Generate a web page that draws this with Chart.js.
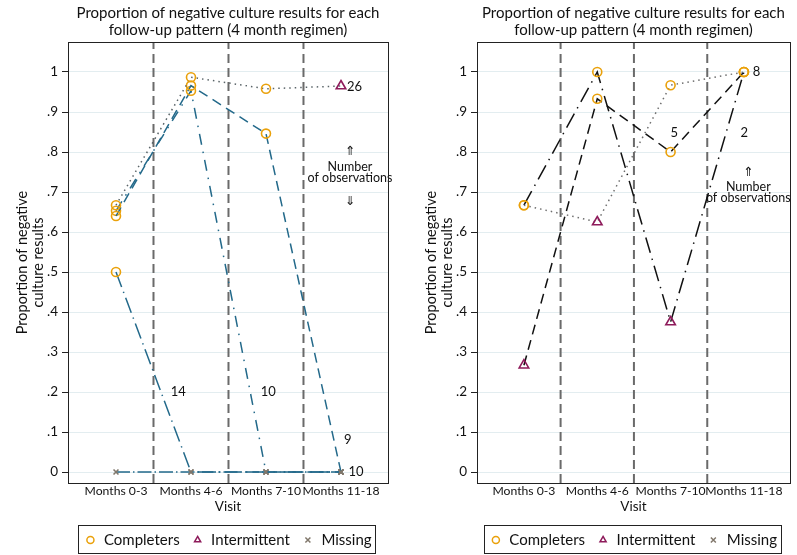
<!DOCTYPE html>
<html><head><meta charset="utf-8">
<script src="https://cdn.jsdelivr.net/npm/chart.js@4.4.1/dist/chart.umd.min.js"></script>
<style>
html,body{margin:0;padding:0;background:#fff;overflow:hidden;width:797px;height:555px}
#c1{position:absolute;left:0;top:0}
#c2{position:absolute;left:409px;top:0}
</style></head><body>
<canvas id="c1" width="398" height="555"></canvas>
<canvas id="c2" width="388" height="555"></canvas>
<script>
// ---------- data ----------
const visits = ['Months 0-3', 'Months 4-6', 'Months 7-10', 'Months 11-18'];
const yTickValues = [0, 0.1, 0.2, 0.3, 0.4, 0.5, 0.6, 0.7, 0.8, 0.9, 1];
const yTickLabels = ['0', '.1', '.2', '.3', '.4', '.5', '.6', '.7', '.8', '.9', '1'];
const legendNames = ['Completers', 'Intermittent', 'Missing'];
const chartTitle = ['Proportion of negative culture results for each', 'follow-up pattern (4 month regimen)'];
const yTitle = ['Proportion of negative', 'culture results'];
const xTitle = 'Visit';

// left panel: follow-up patterns (C = completer, I = intermittent, M = missing)
const leftValues1 = [0.667, 0.987, 0.958, 0.965];
const leftStatus1 = ['C', 'C', 'C', 'I'];
const leftValues2 = [0.640, 0.966, 0.846, 0];
const leftStatus2 = ['C', 'C', 'C', 'M'];
const leftValues3 = [0.653, 0.953, 0, 0];
const leftStatus3 = ['C', 'C', 'M', 'M'];
const leftValues4 = [0.5, 0, 0, 0];
const leftStatus4 = ['C', 'M', 'M', 'M'];
const leftValues5 = [0, 0, 0, 0];
const leftStatus5 = ['M', 'M', 'M', 'M'];
const leftCounts = ['26', '9', '10', '14', '10'];
const leftCountX = [4.08, 4.04, 2.93, 1.73, 4.10];
const leftCountY = [0.963, 0.08, 0.2, 0.2, 0];

// right panel
const rightValues1 = [0.667, 0.625, 0.967, 1.0];
const rightStatus1 = ['C', 'I', 'C', 'C'];
const rightValues2 = [0.667, 1.0, 0.375, 1.0];
const rightStatus2 = ['C', 'C', 'I', 'C'];
const rightValues3 = [0.267, 0.933, 0.8, 1.0];
const rightStatus3 = ['I', 'C', 'C', 'C'];
const rightCounts = ['8', '2', '5'];
const rightCountX = [4.12, 3.955, 3.0];
const rightCountY = [1.0, 0.848, 0.848];

// ---------- styles ----------
const FONT = "Lato, 'DejaVu Sans', sans-serif";
const C_COL = '#eaa10b', I_COL = '#8e1b5b', M_COL = '#80776b';
const styleFor = {
  C: {ps: 'circle', col: C_COL, r: 4.5},
  I: {ps: 'triangle', col: I_COL, r: 5.5},
  M: {ps: 'crossRot', col: M_COL, r: 3.5}
};
const X_MIN = 0.36, X_MAX = 4.627, Y_MIN = -0.0275, Y_MAX = 1.075;
const dividerAt = [1.5, 2.5, 3.5];

function lineDs(values, status, color, dash) {
  return {
    data: values.map((v, i) => ({x: i + 1, y: v})),
    showLine: true, borderColor: color, borderWidth: 1.5, borderDash: dash,
    fill: false, tension: 0,
    pointStyle: status.map(s => styleFor[s].ps),
    pointBorderColor: status.map(s => styleFor[s].col),
    pointBackgroundColor: 'rgba(0,0,0,0)',
    pointRadius: status.map(s => styleFor[s].r),
    pointHoverRadius: status.map(s => styleFor[s].r),
    pointBorderWidth: 1.6,
    order: 1
  };
}
function dividerDs(xv) {
  return {
    data: [{x: xv, y: Y_MIN}, {x: xv, y: Y_MAX}],
    showLine: true, borderColor: '#6a6a6a', borderWidth: 2, borderDash: [9, 5],
    pointRadius: 0, pointHoverRadius: 0, fill: false, order: 10
  };
}

const frameAndLegendBox = {
  id: 'frameBox',
  afterDraw(chart) {
    const ctx = chart.ctx, a = chart.chartArea;
    ctx.save();
    ctx.strokeStyle = '#222'; ctx.lineWidth = 1;
    ctx.strokeRect(Math.round(a.left) + 0.5, Math.round(a.top) + 0.5, Math.round(a.right - a.left), Math.round(a.bottom - a.top));
    const lg = chart.legend;
    if (lg && lg.legendHitBoxes && lg.legendHitBoxes.length) {
      const hb = lg.legendHitBoxes;
      const l = Math.min(...hb.map(h => h.left)) - 6;
      const r = Math.max(...hb.map(h => h.left + h.width)) + 4;
      const cy = hb[0].top + hb[0].height / 2;
      ctx.strokeRect(Math.round(l) + 0.5, Math.round(cy - 15) + 0.5, Math.round(r - l), 28);
    }
    ctx.restore();
  }
};

const annotPlugin = {
  id: 'annot',
  afterDatasetsDraw(chart, args, opts) {
    const ctx = chart.ctx, xs = chart.scales.x, ys = chart.scales.y;
    ctx.save();
    ctx.fillStyle = '#111';
    ctx.textBaseline = 'middle';
    ctx.textAlign = 'left';
    ctx.font = '13px ' + FONT;
    opts.counts.forEach((t, i) => {
      ctx.fillText(t, xs.getPixelForValue(opts.cx[i]), ys.getPixelForValue(opts.cy[i]));
    });
    ctx.textAlign = 'center';
    ctx.font = '12.5px ' + FONT;
    opts.note.forEach(n => {
      ctx.fillText(n.t, xs.getPixelForValue(n.x), ys.getPixelForValue(n.y));
    });
    ctx.restore();
  }
};

function makeChart(id, datasets, annot, padRight) {
  return new Chart(document.getElementById(id), {
    type: 'scatter',
    data: {datasets: dividerAt.map(dividerDs).concat(datasets)},
    plugins: [frameAndLegendBox, annotPlugin],
    options: {
      responsive: false, animation: false, devicePixelRatio: 1,
      layout: {padding: {left: 0, right: padRight, top: 0, bottom: -2.5}},
      plugins: {
        tooltip: {enabled: false},
        title: {
          display: true, text: chartTitle, fullSize: false, color: '#111',
          font: {family: FONT, size: 15, weight: 'normal', lineHeight: 1.12},
          padding: {top: 4.5, bottom: 3.9}
        },
        legend: {
          display: true, position: 'bottom', fullSize: false,
          labels: {
            usePointStyle: true, boxWidth: 12, boxHeight: 5, padding: 12,
            color: '#111', font: {family: FONT, size: 15},
            generateLabels: () => legendNames.map((n, i) => {
              const st = styleFor[['C', 'I', 'M'][i]];
              return {text: n, pointStyle: st.ps, strokeStyle: st.col, fillStyle: 'rgba(0,0,0,0)',
                      lineWidth: 1.5, hidden: false, fontColor: '#111'};
            })
          }
        },
        annot: annot
      },
      scales: {
        x: {
          type: 'linear', min: X_MIN, max: X_MAX,
          afterBuildTicks: s => { s.ticks = visits.map((v, i) => ({value: i + 1})); },
          afterFit: s => { s.height = 37.5; },
          grid: {display: false, drawTicks: false},
          border: {display: true, color: '#222', width: 1},
          ticks: {callback: v => visits[v - 1], color: '#111', font: {family: FONT, size: 12.2}, padding: 1, maxRotation: 0, autoSkip: false},
          title: {display: true, text: xTitle, color: '#111', font: {family: FONT, size: 13.5, lineHeight: 1.2}, padding: {top: 0, bottom: 5.7}}
        },
        y: {
          type: 'linear', min: Y_MIN, max: Y_MAX,
          afterBuildTicks: s => { s.ticks = yTickValues.map(v => ({value: v})); },
          afterFit: s => { s.width = 68; },
          grid: {display: true, color: '#e3edf0', lineWidth: 1, drawTicks: true, tickLength: 6, tickColor: '#222'},
          border: {display: true, color: '#222', width: 1},
          ticks: {callback: (v) => yTickLabels[yTickValues.findIndex(t => Math.abs(t - v) < 1e-6)], color: '#111',
                  font: {family: FONT, size: 13.5}, padding: 4},
          title: {display: true, text: yTitle, color: '#111', font: {family: FONT, size: 14.5, lineHeight: 1.15}, padding: {top: 13.6, bottom: 0}}
        }
      }
    }
  });
}

const TEAL = '#23698a';
makeChart('c1', [
  lineDs(leftValues1, leftStatus1, '#5a6468', [1.5, 4]),
  lineDs(leftValues2, leftStatus2, TEAL, [10, 6]),
  lineDs(leftValues3, leftStatus3, TEAL, [11, 7, 1.5, 7]),
  lineDs(leftValues4, leftStatus4, TEAL, [16, 5, 1.5, 5]),
  lineDs(leftValues5, leftStatus5, TEAL, [14, 3, 1.5, 3])
], {
  counts: leftCounts, cx: leftCountX, cy: leftCountY,
  note: [{t: '\u21D1', x: 4.12, y: 0.8025}, {t: 'Number', x: 4.12, y: 0.7625},
         {t: 'of observations', x: 4.12, y: 0.735}, {t: '\u21D3', x: 4.12, y: 0.6775}]
}, 10);

makeChart('c2', [
  lineDs(rightValues1, rightStatus1, '#6e6e6e', [1.5, 4]),
  lineDs(rightValues2, rightStatus2, '#111', [16, 6, 1.5, 6]),
  lineDs(rightValues3, rightStatus3, '#111', [10, 6])
], {
  counts: rightCounts, cx: rightCountX, cy: rightCountY,
  note: [{t: '\u21D1', x: 4.06, y: 0.75}, {t: 'Number', x: 4.06, y: 0.713},
         {t: 'of observations', x: 4.06, y: 0.685}]
}, 1);
</script>
</body></html>
